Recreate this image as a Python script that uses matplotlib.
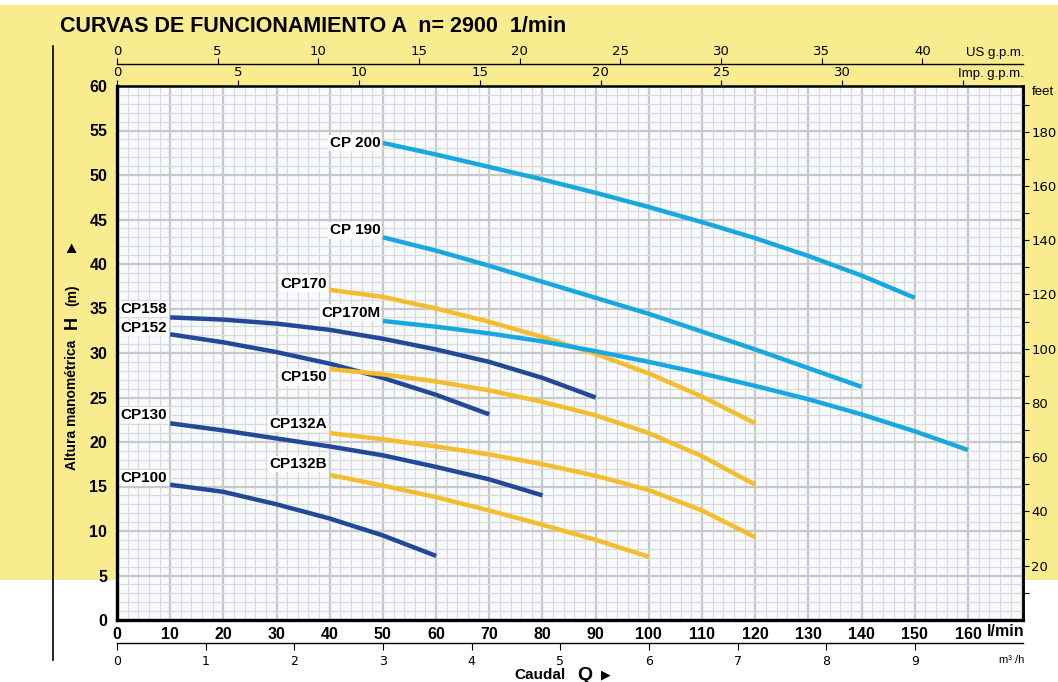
import matplotlib
matplotlib.use('Agg')
import matplotlib.pyplot as plt
from matplotlib.ticker import FixedLocator, MultipleLocator
from matplotlib.patches import Rectangle
from matplotlib.lines import Line2D

# ---------------- data ----------------
cp200_q = [50, 60, 70, 80, 90, 100, 110, 120, 130, 140, 150]
cp200_h = [53.6, 52.3, 50.9, 49.5, 48.0, 46.4, 44.7, 42.9, 40.9, 38.7, 36.2]

cp190_q = [50, 60, 70, 80, 90, 100, 110, 120, 130, 140]
cp190_h = [43.0, 41.5, 39.8, 38.0, 36.2, 34.4, 32.4, 30.4, 28.3, 26.2]

cp170_q = [40, 50, 60, 70, 80, 90, 100, 110, 120]
cp170_h = [37.1, 36.3, 35.0, 33.5, 31.8, 29.9, 27.7, 25.1, 22.1]

cp170m_q = [50, 60, 70, 80, 90, 100, 110, 120, 130, 140, 150, 160]
cp170m_h = [33.6, 32.95, 32.2, 31.3, 30.2, 29.0, 27.7, 26.3, 24.8, 23.1, 21.2, 19.1]

cp158_q = [10, 20, 30, 40, 50, 60, 70, 80, 90]
cp158_h = [34.0, 33.75, 33.3, 32.6, 31.6, 30.4, 29.0, 27.2, 25.0]

cp152_q = [10, 20, 30, 40, 50, 60, 70]
cp152_h = [32.1, 31.2, 30.1, 28.8, 27.2, 25.3, 23.1]

cp150_q = [40, 50, 60, 70, 80, 90, 100, 110, 120]
cp150_h = [28.2, 27.6, 26.8, 25.8, 24.5, 23.0, 21.0, 18.4, 15.2]

cp130_q = [10, 20, 30, 40, 50, 60, 70, 80]
cp130_h = [22.1, 21.3, 20.4, 19.5, 18.5, 17.2, 15.8, 14.0]

cp132a_q = [40, 50, 60, 70, 80, 90, 100, 110, 120]
cp132a_h = [21.0, 20.3, 19.5, 18.6, 17.5, 16.2, 14.6, 12.3, 9.3]

cp132b_q = [40, 50, 60, 70, 80, 90, 100]
cp132b_h = [16.3, 15.1, 13.8, 12.3, 10.7, 9.0, 7.1]

cp100_q = [10, 20, 30, 40, 50, 60]
cp100_h = [15.2, 14.4, 13.0, 11.4, 9.5, 7.2]

x_ticks = list(range(0, 161, 10))
y_ticks = list(range(0, 61, 5))
feet_ticks = list(range(20, 181, 20))
us_ticks = list(range(0, 41, 5))
imp_ticks = list(range(0, 36, 5))
m3h_ticks = list(range(0, 10))

# ---------------- styling ----------------
DARK = '#22489a'
LIGHT = '#17a8e3'
YELLOW = '#f5bd2e'
BG = '#f9ec8e'
SANS = 'Liberation Sans'

series = [
    ('CP 200', cp200_q, cp200_h, LIGHT, (-2, 0)),
    ('CP 190', cp190_q, cp190_h, LIGHT, (-2, 5)),
    ('CP170', cp170_q, cp170_h, YELLOW, (-2, 4.5)),
    ('CP170M', cp170m_q, cp170m_h, LIGHT, (-2, 6)),
    ('CP158', cp158_q, cp158_h, DARK, (-2, 6)),
    ('CP152', cp152_q, cp152_h, DARK, (-2, 4.5)),
    ('CP150', cp150_q, cp150_h, YELLOW, (-2, -6)),
    ('CP130', cp130_q, cp130_h, DARK, (-2, 6)),
    ('CP132A', cp132a_q, cp132a_h, YELLOW, (-2, 6.5)),
    ('CP132B', cp132b_q, cp132b_h, YELLOW, (-2, 8)),
    ('CP100', cp100_q, cp100_h, DARK, (-2, 5)),
]

W, H = 1058, 682
def fx(px):
    return px / W
def fy(py):
    return 1 - py / H

fig = plt.figure(figsize=(W / 100, H / 100), dpi=100)
fig.patch.set_facecolor('white')
fig.patches.append(Rectangle((0, fy(580)), 1, fy(5) - fy(580), transform=fig.transFigure,
                             facecolor=BG, edgecolor='none', zorder=-10))
fig.lines.append(Line2D([fx(53), fx(53)], [fy(46), fy(660)], transform=fig.transFigure,
                        color='black', lw=1.2))

ax = fig.add_axes([fx(117), fy(620), (1023 - 117) / W, (620 - 86) / H])
ax.set_facecolor('#f8fbfd')
LPM_PER_US = 3.78541
LPM_PER_IMP = 4.54609
ax.set_xlim(0, 45 * LPM_PER_US)
ax.set_ylim(0, 60)

ax.xaxis.set_major_locator(FixedLocator(x_ticks))
ax.xaxis.set_minor_locator(MultipleLocator(2))
ax.yaxis.set_major_locator(FixedLocator(y_ticks))
ax.yaxis.set_minor_locator(MultipleLocator(1))
ax.set_xticklabels([str(v) for v in x_ticks], fontsize=11.5, fontweight='bold', family=SANS)
ax.set_yticklabels([str(v) for v in y_ticks], fontsize=11.5, fontweight='bold', family=SANS)
ax.grid(which='major', color='#c8c8c8', lw=1.6)
ax.grid(which='minor', color='#dadada', lw=0.9)
ax.set_axisbelow(True)
ax.tick_params(which='both', length=0)
ax.tick_params(axis='x', pad=5)
ax.tick_params(axis='y', pad=7)
for s in ax.spines.values():
    s.set_color('black')
    s.set_linewidth(1.8)
ax.spines['left'].set_linewidth(2.4)
ax.spines['bottom'].set_linewidth(2.4)

for name, q, h, col, (dx, dy) in series:
    ax.plot(q, h, color=col, lw=3.2, solid_capstyle='butt', solid_joinstyle='round', zorder=3)
    ax.annotate(name, (q[0], h[0]), xytext=(dx, dy), textcoords='offset points',
                ha='right', va='center', fontsize=11, fontweight='bold', family=SANS,
                bbox=dict(boxstyle='square,pad=0.08', fc='white', ec='none'), zorder=4)

# right: feet
sec = ax.secondary_yaxis('right', functions=(lambda m: m / 0.3048, lambda f: f * 0.3048))
sec.set_yticks(feet_ticks, labels=[str(v) for v in feet_ticks])
sec.yaxis.set_minor_locator(FixedLocator([v + 10 for v in [0] + feet_ticks]))
sec.tick_params(which='both', direction='out', length=4, width=0.8, pad=2)
sec.tick_params(labelsize=9.5)
sec.spines['right'].set_linewidth(1.8)

# top: imp gpm
top1 = ax.secondary_xaxis('top', functions=(lambda l: l / LPM_PER_IMP, lambda g: g * LPM_PER_IMP))
top1.set_xticks(imp_ticks, labels=[str(v) for v in imp_ticks[:-1]] + [''])
top1.tick_params(direction='out', length=4, width=0.8, pad=1, labelsize=9.5)
top1.spines['top'].set_visible(False)

# top: US gpm
top2 = ax.secondary_xaxis(1 + 22 / 534, functions=(lambda l: l / LPM_PER_US, lambda g: g * LPM_PER_US))
top2.set_xticks(us_ticks, labels=[str(v) for v in us_ticks])
top2.tick_params(direction='out', length=4, width=0.8, pad=0, labelsize=9.5)
top2.spines['top'].set_linewidth(1.0)

# bottom: m3/h
bot = ax.secondary_xaxis(-23 / 534, functions=(lambda l: l * 0.06, lambda m: m / 0.06))
bot.set_xticks(m3h_ticks, labels=[str(v) for v in m3h_ticks])
bot.tick_params(direction='out', length=5, width=0.8, pad=3.5, labelsize=9)
bot.spines['bottom'].set_linewidth(1.0)

# texts
fig.text(fx(60), fy(27), 'CURVAS DE FUNCIONAMIENTO A  n= 2900  1/min', fontsize=15.5,
         fontweight='bold', family=SANS, ha='left', va='center')
fig.text(fx(1024), fy(53), 'US g.p.m.', fontsize=9.5, family=SANS, ha='right', va='center')
fig.text(fx(1024), fy(74), 'Imp. g.p.m.', fontsize=9.5, family=SANS, ha='right', va='center')
fig.text(fx(1032), fy(92), 'feet', fontsize=9.5, family=SANS, ha='left', va='center')
fig.text(fx(1024), fy(632), 'l/min', fontsize=11.5, fontweight='bold', family=SANS, ha='right', va='center')
fig.text(fx(1024), fy(660), 'm³ /h', fontsize=8, family=SANS, ha='right', va='center')

fig.text(fx(514), fy(675), 'Caudal', fontsize=11, fontweight='bold', family=SANS, ha='left', va='center')
fig.text(fx(577), fy(675), 'Q', fontsize=14, fontweight='bold', family=SANS, ha='left', va='center')
fig.text(fx(601), fy(675), '▶', fontsize=9, family='DejaVu Sans', ha='left', va='center')

fig.text(fx(72), fy(470), 'Altura manométrica', fontsize=10, fontweight='bold', family=SANS,
         rotation=90, ha='center', va='bottom')
fig.text(fx(72), fy(329), 'H', fontsize=13, fontweight='bold', family=SANS,
         rotation=90, ha='center', va='bottom')
fig.text(fx(72), fy(306), '(m)', fontsize=10, fontweight='bold', family=SANS,
         rotation=90, ha='center', va='bottom')
fig.text(fx(72), fy(247), '▶', fontsize=9, family='DejaVu Sans',
         rotation=90, ha='center', va='center')

fig.savefig('out.png', dpi=100)
